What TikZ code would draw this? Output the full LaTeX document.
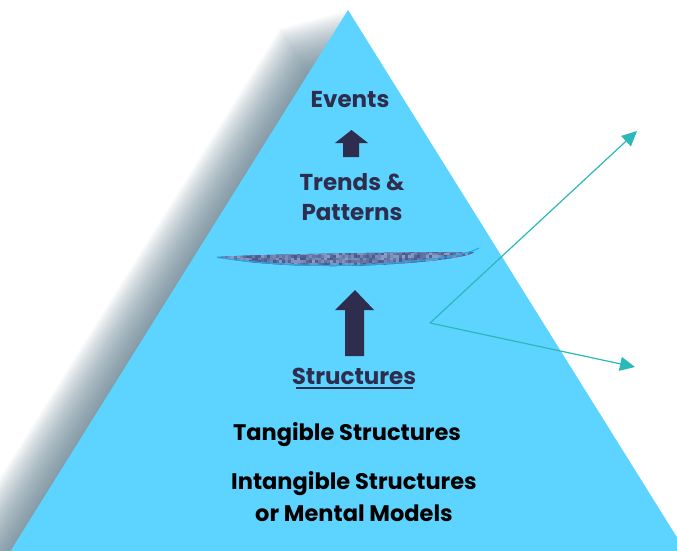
\documentclass[tikz,border=0pt]{standalone}
\usepackage{fontspec}
\setmainfont{Poppins}
\usetikzlibrary{arrows.meta,calc}
\definecolor{sky}{HTML}{5DD3FF}
\definecolor{navy}{HTML}{2E2D4D}
\definecolor{tealc}{HTML}{2BB8B8}
\definecolor{shadowc}{HTML}{4F6F80}
\definecolor{bandc}{HTML}{44568A}
\definecolor{bandl}{HTML}{A7B8DC}
\definecolor{bandedge}{HTML}{1EA8F0}
\tikzset{
  lbl/.style={font=\bfseries\fontsize{23}{30}\selectfont, text=navy, inner sep=0pt, align=center},
  blk/.style={font=\bfseries\fontsize{22.5}{32}\selectfont, text=black, inner sep=0pt, align=center},
  blockarrow/.style={fill=navy, draw=none},
  pointer/.style={draw=tealc, line width=1.2pt, -{Triangle[length=15pt,width=14pt]}}
}
\begin{document}
\begin{tikzpicture}[x=1pt,y=-1pt]
\useasboundingbox (0,0) rectangle (677,550);
\begin{scope}
\clip (0,0) rectangle (677,550);
% soft shadow
\foreach \k in {1,...,32}{
  \fill[shadowc, opacity=0.035] ($(348,10)+(-\k*2.1,\k*0.55)$) -- ++(-350,561) -- ++(700,0) -- cycle;
}
% pyramid
\fill[sky] (348,10) -- (-2,571) -- (698,571) -- cycle;
\end{scope}
% band
\begin{scope}
\clip (217,257) .. controls (260,254) and (420,252) .. (474,252)
  .. controls (470,258) and (400,266) .. (333,266)
  .. controls (280,266) and (240,262) .. (217,257) -- cycle;
\fill[bandc] (210,245) rectangle (480,270);
\pgfmathsetseed{7}
\foreach \x in {216,219,...,477}{
  \foreach \y in {250,252.5,...,268}{
    \pgfmathsetmacro{\r}{rnd*75}
    \fill[bandl!\r!bandc] (\x,\y) rectangle ++(3,2.5);
  }
}
\end{scope}
\draw[bandedge, line width=1pt] (217,257.5) .. controls (280,266) and (330,267) .. (380,264)
  .. controls (430,260) and (465,256) .. (479,248);
% texts
\node[lbl] (events) at (350,100) {Events};
\node[lbl] (trends) at (352,197) {Trends \&\\Patterns};
\node[lbl] (struct) at (354,376) {Structures};
\draw[navy, line width=2pt] (296,388) -- (413,388);
\node[blk] (tang) at (347,435) {Tangible Structures};
\node[blk] (intang) at (354,497) {Intangible Structures\\or Mental Models};
% block arrows
\fill[blockarrow] (351.5,130) -- (368,143) -- (359,143) -- (359,157) -- (343,157) -- (343,143) -- (335,143) -- cycle;
\fill[blockarrow] (355,290) -- (374,310) -- (364,310) -- (364,356) -- (345,356) -- (345,310) -- (335,310) -- cycle;
% teal pointers
\coordinate (o) at (430,323);
\coordinate (t1) at (637,131);
\coordinate (t2) at (635,367);
\draw[pointer] (o) -- (t1);
\draw[pointer] (o) -- (t2);
\end{tikzpicture}
\end{document}
